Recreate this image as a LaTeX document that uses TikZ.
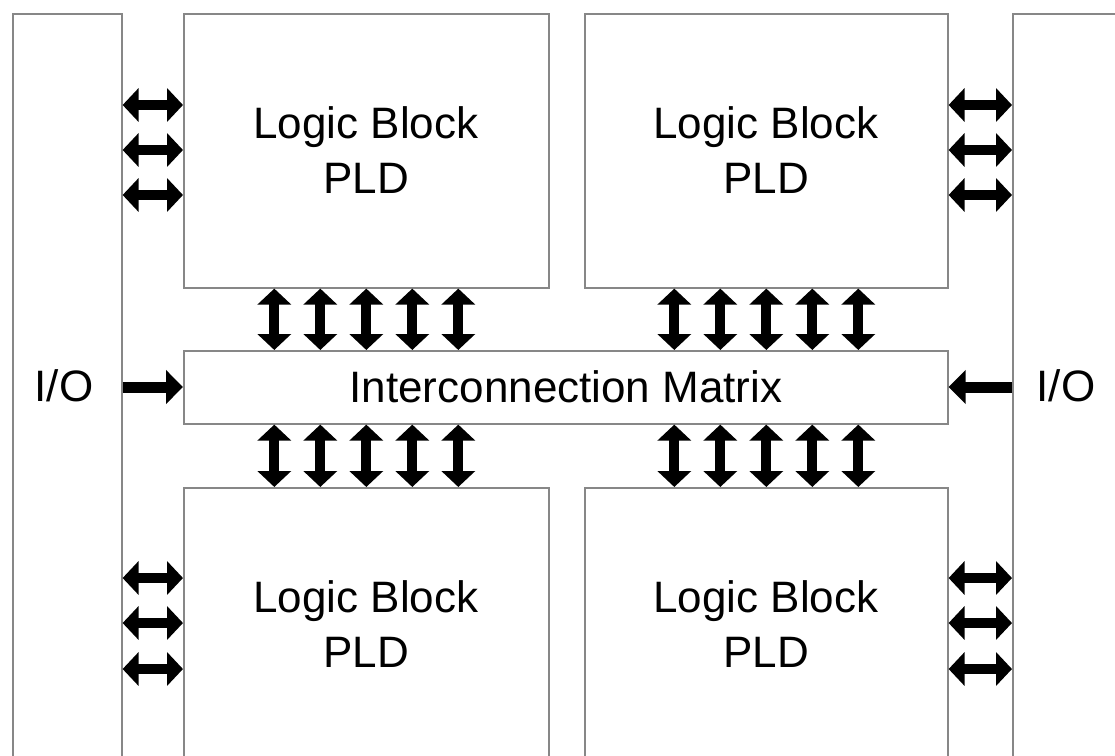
\documentclass[tikz,border=0pt]{standalone}
\usepackage{fontspec}
\setmainfont{Liberation Sans}
\usetikzlibrary{arrows.meta}
\definecolor{edge}{RGB}{135,135,135}
\tikzset{
  box/.style={draw=edge, line width=1.6pt, inner sep=0pt, anchor=north west},
  lbl/.style={font=\fontsize{44}{55}\selectfont, align=center, inner sep=0pt},
  dbl/.style={line width=10pt, {Triangle[width=33pt,length=16pt]}-{Triangle[width=33pt,length=16pt]}},
  sgl/.style={line width=11pt, -{Triangle[width=33pt,length=17pt]}}
}
\begin{document}
\begin{tikzpicture}[x=1pt,y=-1pt]
\useasboundingbox (0,0) rectangle (1115,755);
\clip (0,0) rectangle (1115,755);
% I/O columns
\node[box, minimum width=109pt, minimum height=800pt] (lio) at (12,13) {};
\node[box, minimum width=200pt, minimum height=800pt] (rio) at (1012,13) {};
% logic blocks
\node[box, minimum width=365pt, minimum height=274pt] (tl) at (183,13) {};
\node[box, minimum width=363pt, minimum height=274pt] (tr) at (584,13) {};
\node[box, minimum width=365pt, minimum height=400pt] (bl) at (183,487) {};
\node[box, minimum width=363pt, minimum height=400pt] (br) at (584,487) {};
% interconnection matrix
\node[box, minimum width=764pt, minimum height=73pt] (mx) at (183,350) {};
\node[lbl] (mxt) at (566,386.5) {Interconnection Matrix};
% labels
\node[lbl] (tlt) at (366,150) {Logic Block\\PLD};
\node[lbl] (trt) at (766,150) {Logic Block\\PLD};
\node[lbl] (blt) at (366,624) {Logic Block\\PLD};
\node[lbl] (brt) at (766,624) {Logic Block\\PLD};
\node[lbl] (liot) at (64,386) {I/O};
\node[lbl] (riot) at (1066,386) {I/O};
% horizontal double arrows
\foreach \y in {105,150,195}{
  \draw[dbl] (lio.east |- 0,\y) -- (tl.west |- 0,\y);
  \draw[dbl] (tr.east |- 0,\y) -- (rio.west |- 0,\y);
}
\foreach \y in {578,623,669}{
  \draw[dbl] (lio.east |- 0,\y) -- (bl.west |- 0,\y);
  \draw[dbl] (br.east |- 0,\y) -- (rio.west |- 0,\y);
}
% vertical double arrows
\foreach \d in {-92,-46,0,46,92}{
  \draw[dbl] ([xshift=\d pt]tl.south) -- ([xshift=\d pt]tl.south |- mx.north);
  \draw[dbl] ([xshift=\d pt]tr.south) -- ([xshift=\d pt]tr.south |- mx.north);
  \draw[dbl] ([xshift=\d pt]mx.south -| tl.south) -- ([xshift=\d pt]bl.north);
  \draw[dbl] ([xshift=\d pt]mx.south -| tr.south) -- ([xshift=\d pt]br.north);
}
% I/O arrows
\draw[sgl] (lio.east |- 0,387) -- (mx.west |- 0,387);
\draw[sgl] (rio.west |- 0,387) -- (mx.east |- 0,387);
\end{tikzpicture}
\end{document}
